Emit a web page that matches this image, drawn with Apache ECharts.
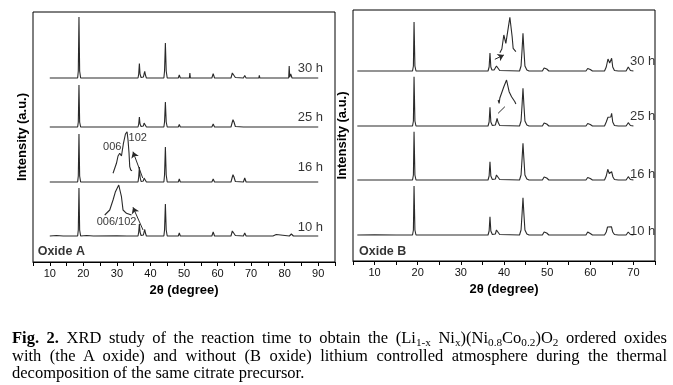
<!DOCTYPE html>
<html>
<head>
<meta charset="utf-8">
<script src="https://cdn.jsdelivr.net/npm/echarts@6/dist/echarts.min.js"></script>
<style>
html,body{margin:0;padding:0;background:#fff;}
#chart{position:absolute;left:0;top:0;width:673px;height:385px;}
#cap{position:absolute;left:12px;top:329px;width:655px;font-family:'Liberation Serif','Times New Roman',serif;font-size:16.5px;line-height:17.5px;color:#000;}
#cap .j{text-align:justify;text-align-last:justify;}
#cap sub{font-size:0.68em;vertical-align:-0.3em;line-height:0;}
</style>
</head>
<body>
<div id="chart"></div>
<div id="cap">
<div class="j"><b>Fig. 2.</b> XRD study of the reaction time to obtain the (Li<sub>1-x</sub> Ni<sub>x</sub>)(Ni<sub>0.8</sub>Co<sub>0.2</sub>)O<sub>2</sub> ordered oxides</div>
<div class="j">with (the A oxide) and without (B oxide) lithium controlled atmosphere during the thermal</div>
<div>decomposition of the same citrate precursor.</div>
</div>
<script>
// ---------- data ----------
const timeLabels = ['10 h', '16 h', '25 h', '30 h'];
const xTicksA = [10, 20, 30, 40, 50, 60, 70, 80, 90];
const xTicksB = [10, 20, 30, 40, 50, 60, 70];

// stacking offsets (a.u.) for 10 h, 16 h, 25 h, 30 h
const offsetsA = [26, 80, 135, 184];
const offsetsB = [26, 81, 135, 190];

// Oxide A patterns: [2theta, intensity above baseline]
const patternA10 = [[10,0],[12,0.5],[14,0],[18.3,0],[18.5,6],[18.7,48],[18.9,6],[19.2,0],[21,0.5],[23,0],[30,0.3],[33,0],[36.3,0],[36.5,4],[36.7,12],[36.9,4],[37.2,0.5],[37.9,1],[38.1,4],[38.3,6.5],[38.5,3],[38.8,0],[44.0,0],[44.2,6],[44.45,32],[44.7,6],[45.0,0],[48.3,0],[48.6,3],[48.9,0],[58.3,0],[58.7,4],[59.1,0],[64.0,0],[64.4,5],[64.6,7],[64.9,5],[65.3,0.5],[67.7,0],[68.1,3],[68.5,0],[76.5,0],[77.0,2],[77.5,1.5],[78,0],[81.4,0],[82,2],[82.6,0],[84.5,0],[84.9,1],[85.3,0],[90,0]];
const patternA16 = [[10,0],[18.3,0],[18.5,6],[18.7,48],[18.9,6],[19.2,0],[36.3,0],[36.5,5],[36.7,15],[36.9,5],[37.2,0.5],[37.9,1],[38.1,4],[38.3,6],[38.5,3],[38.8,0],[44.0,0],[44.2,7],[44.45,35],[44.7,7],[45.0,0],[48.3,0],[48.6,3],[48.9,0],[58.3,0],[58.7,3],[59.1,0],[64.0,0],[64.4,5],[64.6,7.3],[64.9,5],[65.3,0.5],[67.7,0],[68.1,4],[68.5,0],[77,0],[77.5,1.5],[78,0],[81.4,0],[81.8,2],[82.3,0],[84.4,0],[84.7,1],[85,0],[90,0]];
const patternA25 = [[10,0],[18.3,0],[18.5,5],[18.7,42],[18.9,5],[19.2,0],[36.3,0],[36.5,3],[36.7,10],[36.9,3],[37.2,0.5],[37.9,1],[38.1,4],[38.3,6],[38.5,3],[38.8,0],[44.0,0],[44.2,5],[44.45,25],[44.7,5],[45.0,0],[48.3,0],[48.6,2.5],[48.9,0],[58.3,0],[58.7,3],[59.1,0],[64.0,0],[64.4,5],[64.6,7.3],[64.9,5],[65.3,0.5],[67.7,0],[68.1,2],[68.5,0],[77,0],[77.5,1.3],[78,0],[81.3,0],[81.8,1.5],[82.3,0],[90,0]];
const patternA30 = [[10,0],[18.3,0],[18.5,7],[18.7,61],[18.9,7],[19.2,0],[36.3,0],[36.5,4],[36.7,14.4],[36.9,4],[37.2,0.5],[37.9,1],[38.1,4],[38.3,6.7],[38.5,3],[38.8,0],[44.0,0],[44.2,7],[44.45,35],[44.7,7],[45.0,0],[48.3,0],[48.6,3],[48.9,0],[51.6,0],[51.75,5],[51.9,0],[58.3,0],[58.7,4.4],[59.1,0],[64.0,0],[64.4,5],[64.6,7],[64.9,5],[65.3,0.5],[67.7,0],[68.1,2.4],[68.5,0],[72.3,0],[72.45,2.7],[72.6,0],[77,0],[77.5,1.5],[78,0],[81.2,0],[81.35,12],[81.5,1],[81.8,4],[82.2,0],[84.4,0],[84.7,1],[85,0],[90,0]];

// Oxide B patterns
const patternB10 = [[6,0],[10,0.3],[15,0],[18.8,0],[19.0,5],[19.15,49],[19.35,5],[19.6,0],[31.9,0],[32.2,1.2],[32.5,0],[36.3,0],[36.55,4],[36.75,18.3],[36.95,4],[37.3,0.5],[38.0,1],[38.25,5],[38.4,6.7],[38.6,4],[39.0,0.5],[43.6,0],[43.95,5],[44.2,22],[44.4,37.3],[44.6,22],[44.85,5],[45.05,4.5],[45.3,1],[45.8,0],[48.9,0],[49.3,3],[49.55,4],[49.9,2],[50.4,0],[59.0,0],[59.4,3],[59.65,4],[60.0,1.5],[60.5,0],[63.3,0],[63.7,3],[64.0,8],[64.4,8.3],[64.9,8.3],[65.2,3],[65.6,0.5],[66.5,0],[68.3,0],[68.8,3],[69.3,0.5],[70,0]];
const patternB16 = [[6,0],[18.8,0],[19.0,5],[19.15,48.3],[19.35,5],[19.6,0],[31.9,0],[32.2,1.2],[32.5,0],[36.3,0],[36.55,4],[36.75,18.3],[36.95,4],[37.3,0.5],[38.0,1],[38.25,5],[38.4,6.7],[38.6,4],[39.0,0.5],[43.6,0],[43.95,5],[44.2,22],[44.4,36.7],[44.6,22],[44.85,5],[45.05,4.5],[45.3,1],[45.8,0],[48.9,0],[49.3,3],[49.55,4],[49.9,2],[50.4,0],[59.0,0],[59.4,2.5],[59.65,3.3],[60.0,1.5],[60.5,0],[63.3,0],[63.7,4],[64.05,10.7],[64.4,6.5],[64.7,7.5],[64.95,8.3],[65.25,3],[65.6,0.5],[66.5,0],[68.3,0],[68.8,3.3],[69.3,0.5],[70,0]];
const patternB25 = [[6,0],[18.8,0],[19.0,5],[19.15,49.3],[19.35,5],[19.6,0],[31.9,0],[32.2,1],[32.5,0],[36.3,0],[36.55,4],[36.75,18.7],[36.95,4],[37.3,0.5],[38.0,1],[38.25,5],[38.4,7.7],[38.6,4],[39.0,0.5],[43.6,0],[43.95,5],[44.2,22],[44.4,37.7],[44.6,22],[44.85,5],[45.05,4.5],[45.3,1],[45.8,0],[48.9,0],[49.3,3],[49.55,4],[49.9,2],[50.4,0],[59.0,0],[59.4,2.5],[59.65,3],[60.0,1.5],[60.5,0],[63.3,0],[63.7,4],[64.1,8.7],[64.45,7],[64.75,9],[64.95,12.7],[65.2,4],[65.6,0.5],[66.5,0],[68.3,0],[68.8,3.3],[69.3,0.5],[70,0]];
const patternB30 = [[6,0],[18.8,0],[19.0,5],[19.15,49],[19.35,5],[19.6,0],[31.9,0],[32.2,1.2],[32.5,0],[36.3,0],[36.55,4],[36.75,18],[36.95,4],[37.2,1],[37.45,3],[37.7,1],[38.0,1.5],[38.25,5],[38.4,6.7],[38.6,4],[39.0,0.5],[43.6,0],[43.95,5],[44.2,22],[44.4,37.7],[44.6,22],[44.85,5],[45.05,4.5],[45.3,1],[45.8,0],[48.9,0],[49.3,3],[49.55,4],[49.9,2],[50.4,0],[59.0,0],[59.4,2.5],[59.65,3.5],[60.0,1.5],[60.5,0],[63.3,0],[63.7,4],[64.1,12],[64.3,12],[64.5,8],[64.75,10],[64.95,12.7],[65.2,4],[65.6,0.5],[66.5,0],[68.3,0],[68.8,4],[69.3,0.5],[70,0]];

// zoomed 006/102 sketches (in axis units of each panel)
const insetA16 = [[28.85,88.7],[29.87,98.7],[30.34,106],[30.85,108.7],[31.36,106],[31.95,118.7],[32.55,128],[33.03,130.3],[33.32,122],[33.62,108.7],[33.83,95.3],[34.13,92],[34.52,91.3]];
const insetA10 = [[26.38,47],[27.87,52],[28.85,62],[29.57,70.3],[30.55,77],[31.36,65.3],[31.83,52],[32.85,48.7],[34.34,47]];
const insetB30 = [[39.04,208.3],[39.5,212],[39.96,226],[40.43,217.7],[41.36,243.7],[41.89,224.3],[42.12,212.7],[42.75,209.3]];
const insetB25 = [[38.64,161],[38.87,157.7],[39.04,163],[39.43,164.3],[39.96,174.3],[40.59,181],[41.19,169.3],[41.75,164.3],[42.52,159.3],[42.75,157]];

// arrows [from, to]
const arrowsA = [[[37.7,84],[34.8,110.3]], [[37.8,32],[34.8,54.7]]];
const arrowsB = [[[37.88,201.7],[39.96,206]]];
const plainLinesB = [[[38.64,147.7],[40.2,154.3]]];

// text annotations: [x, y, text]
const timeLabelPosA = [[83.9,35],[83.9,95],[83.9,145],[83.9,194]];
const timeLabelPosB = [[69.2,30],[69.2,87],[69.2,145],[69.2,200]];
const peakLabelsA = [[28.6,115.3,'006'],[36.2,124,'102'],[29.9,40.5,'006/102']];
const panelNames = ['Oxide A', 'Oxide B'];

// ---------- chart ----------
const FONT = "'Liberation Sans', Arial, sans-serif";
const INK = '#2a2a2a';
const chart = echarts.init(document.getElementById('chart'), null, {renderer: 'canvas'});

function shifted(pattern, off) { return pattern.map(p => [p[0], p[1] + off]); }
function traceSeries(data, gi) {
  return {type: 'line', xAxisIndex: gi, yAxisIndex: gi, data: data, showSymbol: false, symbol: 'none',
    lineStyle: {color: INK, width: 1.1}, silent: true, animation: false, z: 3};
}
function labelSeries(points, gi, align, size, weight) {
  return {type: 'scatter', xAxisIndex: gi, yAxisIndex: gi, symbolSize: 0, silent: true, animation: false,
    data: points.map(p => ({value: [p[0], p[1]], name: p[2]})),
    label: {show: true, position: 'inside', formatter: '{b}', align: align, verticalAlign: 'middle',
      color: '#000', fontFamily: FONT, fontSize: size, fontWeight: weight}, z: 5};
}
function arrowSeries(list, gi, withHead) {
  return {type: 'lines', coordinateSystem: 'cartesian2d', xAxisIndex: gi, yAxisIndex: gi, silent: true, animation: false,
    symbol: withHead ? ['none', 'arrow'] : ['none', 'none'], symbolSize: 6,
    lineStyle: {color: INK, width: 1, opacity: 1}, data: list.map(c => ({coords: c})), z: 4};
}

const patternsA = [patternA10, patternA16, patternA25, patternA30];
const patternsB = [patternB10, patternB16, patternB25, patternB30];

const series = [];
patternsA.forEach((p, i) => series.push(traceSeries(shifted(p, offsetsA[i]), 0)));
patternsB.forEach((p, i) => series.push(traceSeries(shifted(p, offsetsB[i]), 1)));
[insetA16, insetA10].forEach(d => series.push(traceSeries(d, 0)));
[insetB30, insetB25].forEach(d => series.push(traceSeries(d, 1)));
series.push(arrowSeries(arrowsA, 0, true));
series.push(arrowSeries(arrowsB, 1, true));
series.push(arrowSeries(plainLinesB, 1, false));
series.push(labelSeries(timeLabelPosA.map((p, i) => [p[0], p[1], timeLabels[i]]), 0, 'left', 13, 'normal'));
series.push(labelSeries(timeLabelPosB.map((p, i) => [p[0], p[1], timeLabels[i]]), 1, 'left', 13, 'normal'));
series.push(labelSeries(peakLabelsA, 0, 'center', 11, 'normal'));
series.push(labelSeries([[6.4, 10, panelNames[0]]], 0, 'left', 12.5, 'bold'));
series.push(labelSeries([[6.4, 9, panelNames[1]]], 1, 'left', 12.5, 'bold'));

function xAxis(gi, min, max, ticks) {
  return {type: 'value', gridIndex: gi, min: min, max: max, interval: 5,
    name: '2\u03b8 (degree)', nameLocation: 'middle', nameGap: 20,
    nameTextStyle: {fontFamily: FONT, fontSize: 13, fontWeight: 'bold', color: '#000'},
    axisLine: {show: true, lineStyle: {color: '#000', width: 1}},
    axisTick: {show: true, inside: false, length: 4, lineStyle: {color: '#000'}},
    axisLabel: {show: true, margin: 6, fontFamily: FONT, fontSize: 11, color: '#111',
      formatter: v => ticks.indexOf(v) >= 0 ? String(v) : ''},
    splitLine: {show: false}};
}
function yAxis(gi, max) {
  return {type: 'value', gridIndex: gi, min: 0, max: max,
    name: 'Intensity (a.u.)', nameLocation: 'middle', nameGap: 4, nameRotate: 90,
    nameTextStyle: {fontFamily: FONT, fontSize: 13, fontWeight: 'bold', color: '#000'},
    axisLine: {show: false}, axisTick: {show: false}, axisLabel: {show: false}, splitLine: {show: false}};
}

chart.setOption({
  animation: false,
  backgroundColor: '#fff',
  grid: [
    {left: 33, top: 12, width: 302, height: 250, show: true, borderColor: '#000', borderWidth: 1, backgroundColor: 'transparent'},
    {left: 353, top: 10, width: 302, height: 251, show: true, borderColor: '#000', borderWidth: 1, backgroundColor: 'transparent'}
  ],
  xAxis: [xAxis(0, 5, 95, xTicksA), xAxis(1, 5, 75, xTicksB)],
  yAxis: [yAxis(0, 250), yAxis(1, 251)],
  series: series
});
</script>
</body>
</html>
